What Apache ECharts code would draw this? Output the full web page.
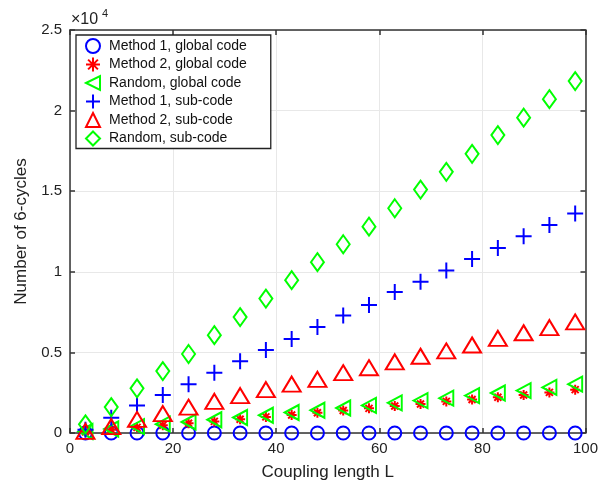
<!DOCTYPE html>
<html>
<head>
<meta charset="utf-8">
<script src="https://cdn.jsdelivr.net/npm/echarts@6/dist/echarts.min.js"></script>
<style>
  html, body { margin: 0; padding: 0; background: #fff; }
  #chart { width: 601px; height: 486px; }
</style>
</head>
<body>
<div id="chart"></div>
<script>
// ---- data ----
const couplingL = [3, 8, 13, 18, 23, 28, 33, 38, 43, 48, 53, 58, 63, 68, 73, 78, 83, 88, 93, 98];
const method1Global = [0, 0, 0, 0, 0, 0, 0, 0, 0, 0, 0, 0, 0, 0, 0, 0, 0, 0, 0, 0];
const method2Global = [70, 200, 350, 480, 600, 720, 850, 1000, 1120, 1260, 1400, 1530, 1670, 1800, 1960, 2080, 2220, 2360, 2520, 2690];
const randomGlobal = [90, 250, 400, 550, 680, 820, 960, 1100, 1270, 1410, 1550, 1710, 1870, 2010, 2160, 2320, 2480, 2630, 2830, 3030];
const method1Sub = [200, 940, 1710, 2360, 3030, 3740, 4450, 5150, 5830, 6580, 7290, 7940, 8750, 9380, 10080, 10800, 11480, 12210, 12900, 13610];
const method2Sub = [100, 400, 840, 1200, 1600, 1960, 2320, 2690, 3030, 3330, 3740, 4050, 4410, 4760, 5090, 5460, 5870, 6220, 6540, 6890];
const randomSub = [540, 1610, 2770, 3840, 4900, 6070, 7190, 8340, 9480, 10600, 11710, 12800, 13940, 15100, 16200, 17320, 18480, 19560, 20710, 21830];
const seriesNames = ['Method 1, global code', 'Method 2, global code', 'Random, global code',
                     'Method 1, sub-code', 'Method 2, sub-code', 'Random, sub-code'];
const xTicks = [0, 20, 40, 60, 80, 100];
const yTicks = [0, 5000, 10000, 15000, 20000, 25000];

const FONT = '"Liberation Sans", Arial, Helvetica, sans-serif';
const TXT = '#222';
const BLUE = '#0000ff', RED = '#ff0000', GREEN = '#00ff00';

function pairs(vals) { return couplingL.map((x, i) => [x, vals[i]]); }

const PLUS = 'path://M5,0L5,10M0,5L10,5';
const STAR = 'path://M5,0L5,10M0,5L10,5M1.5,1.5L8.5,8.5M1.5,8.5L8.5,1.5';
const LTRI = 'path://M0,5L10,0L10,10Z';

function mk(name, vals, symbol, size, color, bw) {
  return {
    name: name, type: 'scatter', data: pairs(vals),
    symbol: symbol, symbolSize: size,
    itemStyle: { color: 'rgba(0,0,0,0)', borderColor: color, borderWidth: bw, opacity: 1 },
    emphasis: { disabled: true },
    animation: false
  };
}

const chart = echarts.init(document.getElementById('chart'), null, { renderer: 'canvas' });
const option = {
  backgroundColor: '#fff',
  animation: false,
  textStyle: { fontFamily: FONT },
  grid: { left: 70, top: 30, right: 15, bottom: 44, containLabel: false },
  legend: {
    orient: 'vertical', left: 76, top: 35,
    padding: [3, 24, 2, 9], itemGap: 2.5, itemWidth: 14, itemHeight: 14,
    borderColor: '#222', borderWidth: 1.3, backgroundColor: '#fff',
    textStyle: { fontSize: 14, color: '#111', fontFamily: FONT, padding: [0, 0, 0, 4] },
    data: seriesNames, z: 10
  },
  xAxis: [{
    type: 'value', min: xTicks[0], max: xTicks[xTicks.length - 1], interval: 20,
    name: 'Coupling length L', nameLocation: 'middle', nameGap: 31,
    nameTextStyle: { fontSize: 17, color: TXT, fontFamily: FONT },
    axisLine: { show: true, onZero: false, lineStyle: { color: '#333', width: 1.5 } },
    axisTick: { show: true, inside: true, length: 5, lineStyle: { color: '#333', width: 1.5 } },
    axisLabel: { fontSize: 15, color: TXT, margin: 8, fontFamily: FONT },
    splitLine: { show: true, lineStyle: { color: '#e8e8e8', width: 1 } }
  }, {
    type: 'value', position: 'top', min: 0, max: 100, interval: 20,
    axisLine: { show: true, onZero: false, lineStyle: { color: '#333', width: 1.5 } },
    axisTick: { show: true, inside: true, length: 5, lineStyle: { color: '#333', width: 1.5 } },
    axisLabel: { show: false }, splitLine: { show: false }
  }],
  yAxis: [{
    type: 'value', min: yTicks[0], max: yTicks[yTicks.length - 1], interval: 5000,
    name: 'Number of 6-cycles', nameLocation: 'middle', nameGap: 33, nameRotate: 90,
    nameTextStyle: { fontSize: 17, color: TXT, fontFamily: FONT },
    axisLine: { show: true, onZero: false, lineStyle: { color: '#333', width: 1.5 } },
    axisTick: { show: true, inside: true, length: 5, lineStyle: { color: '#333', width: 1.5 } },
    axisLabel: { fontSize: 15, color: TXT, margin: 8, fontFamily: FONT,
                 formatter: v => String(v / 10000) },
    splitLine: { show: true, lineStyle: { color: '#e8e8e8', width: 1 } }
  }, {
    type: 'value', position: 'right', min: 0, max: 25000, interval: 5000,
    axisLine: { show: true, onZero: false, lineStyle: { color: '#333', width: 1.5 } },
    axisTick: { show: true, inside: true, length: 5, lineStyle: { color: '#333', width: 1.5 } },
    axisLabel: { show: false }, splitLine: { show: false }
  }],
  graphic: [
    { type: 'text', left: 71, top: 12, style: { text: '×10', font: '16px ' + FONT, fill: TXT } },
    { type: 'text', left: 102, top: 8, style: { text: '4', font: '11px ' + FONT, fill: TXT } }
  ],
  series: [
    mk(seriesNames[0], method1Global, 'circle', 13, BLUE, 2),
    mk(seriesNames[1], method2Global, STAR, 10, RED, 2),
    mk(seriesNames[2], randomGlobal, LTRI, [14, 15], GREEN, 2),
    mk(seriesNames[3], method1Sub, PLUS, 16, BLUE, 2),
    mk(seriesNames[4], method2Sub, 'triangle', [18, 15], RED, 2),
    mk(seriesNames[5], randomSub, 'diamond', [13, 18], GREEN, 2)
  ]
};
chart.setOption(option);
</script>
</body>
</html>
